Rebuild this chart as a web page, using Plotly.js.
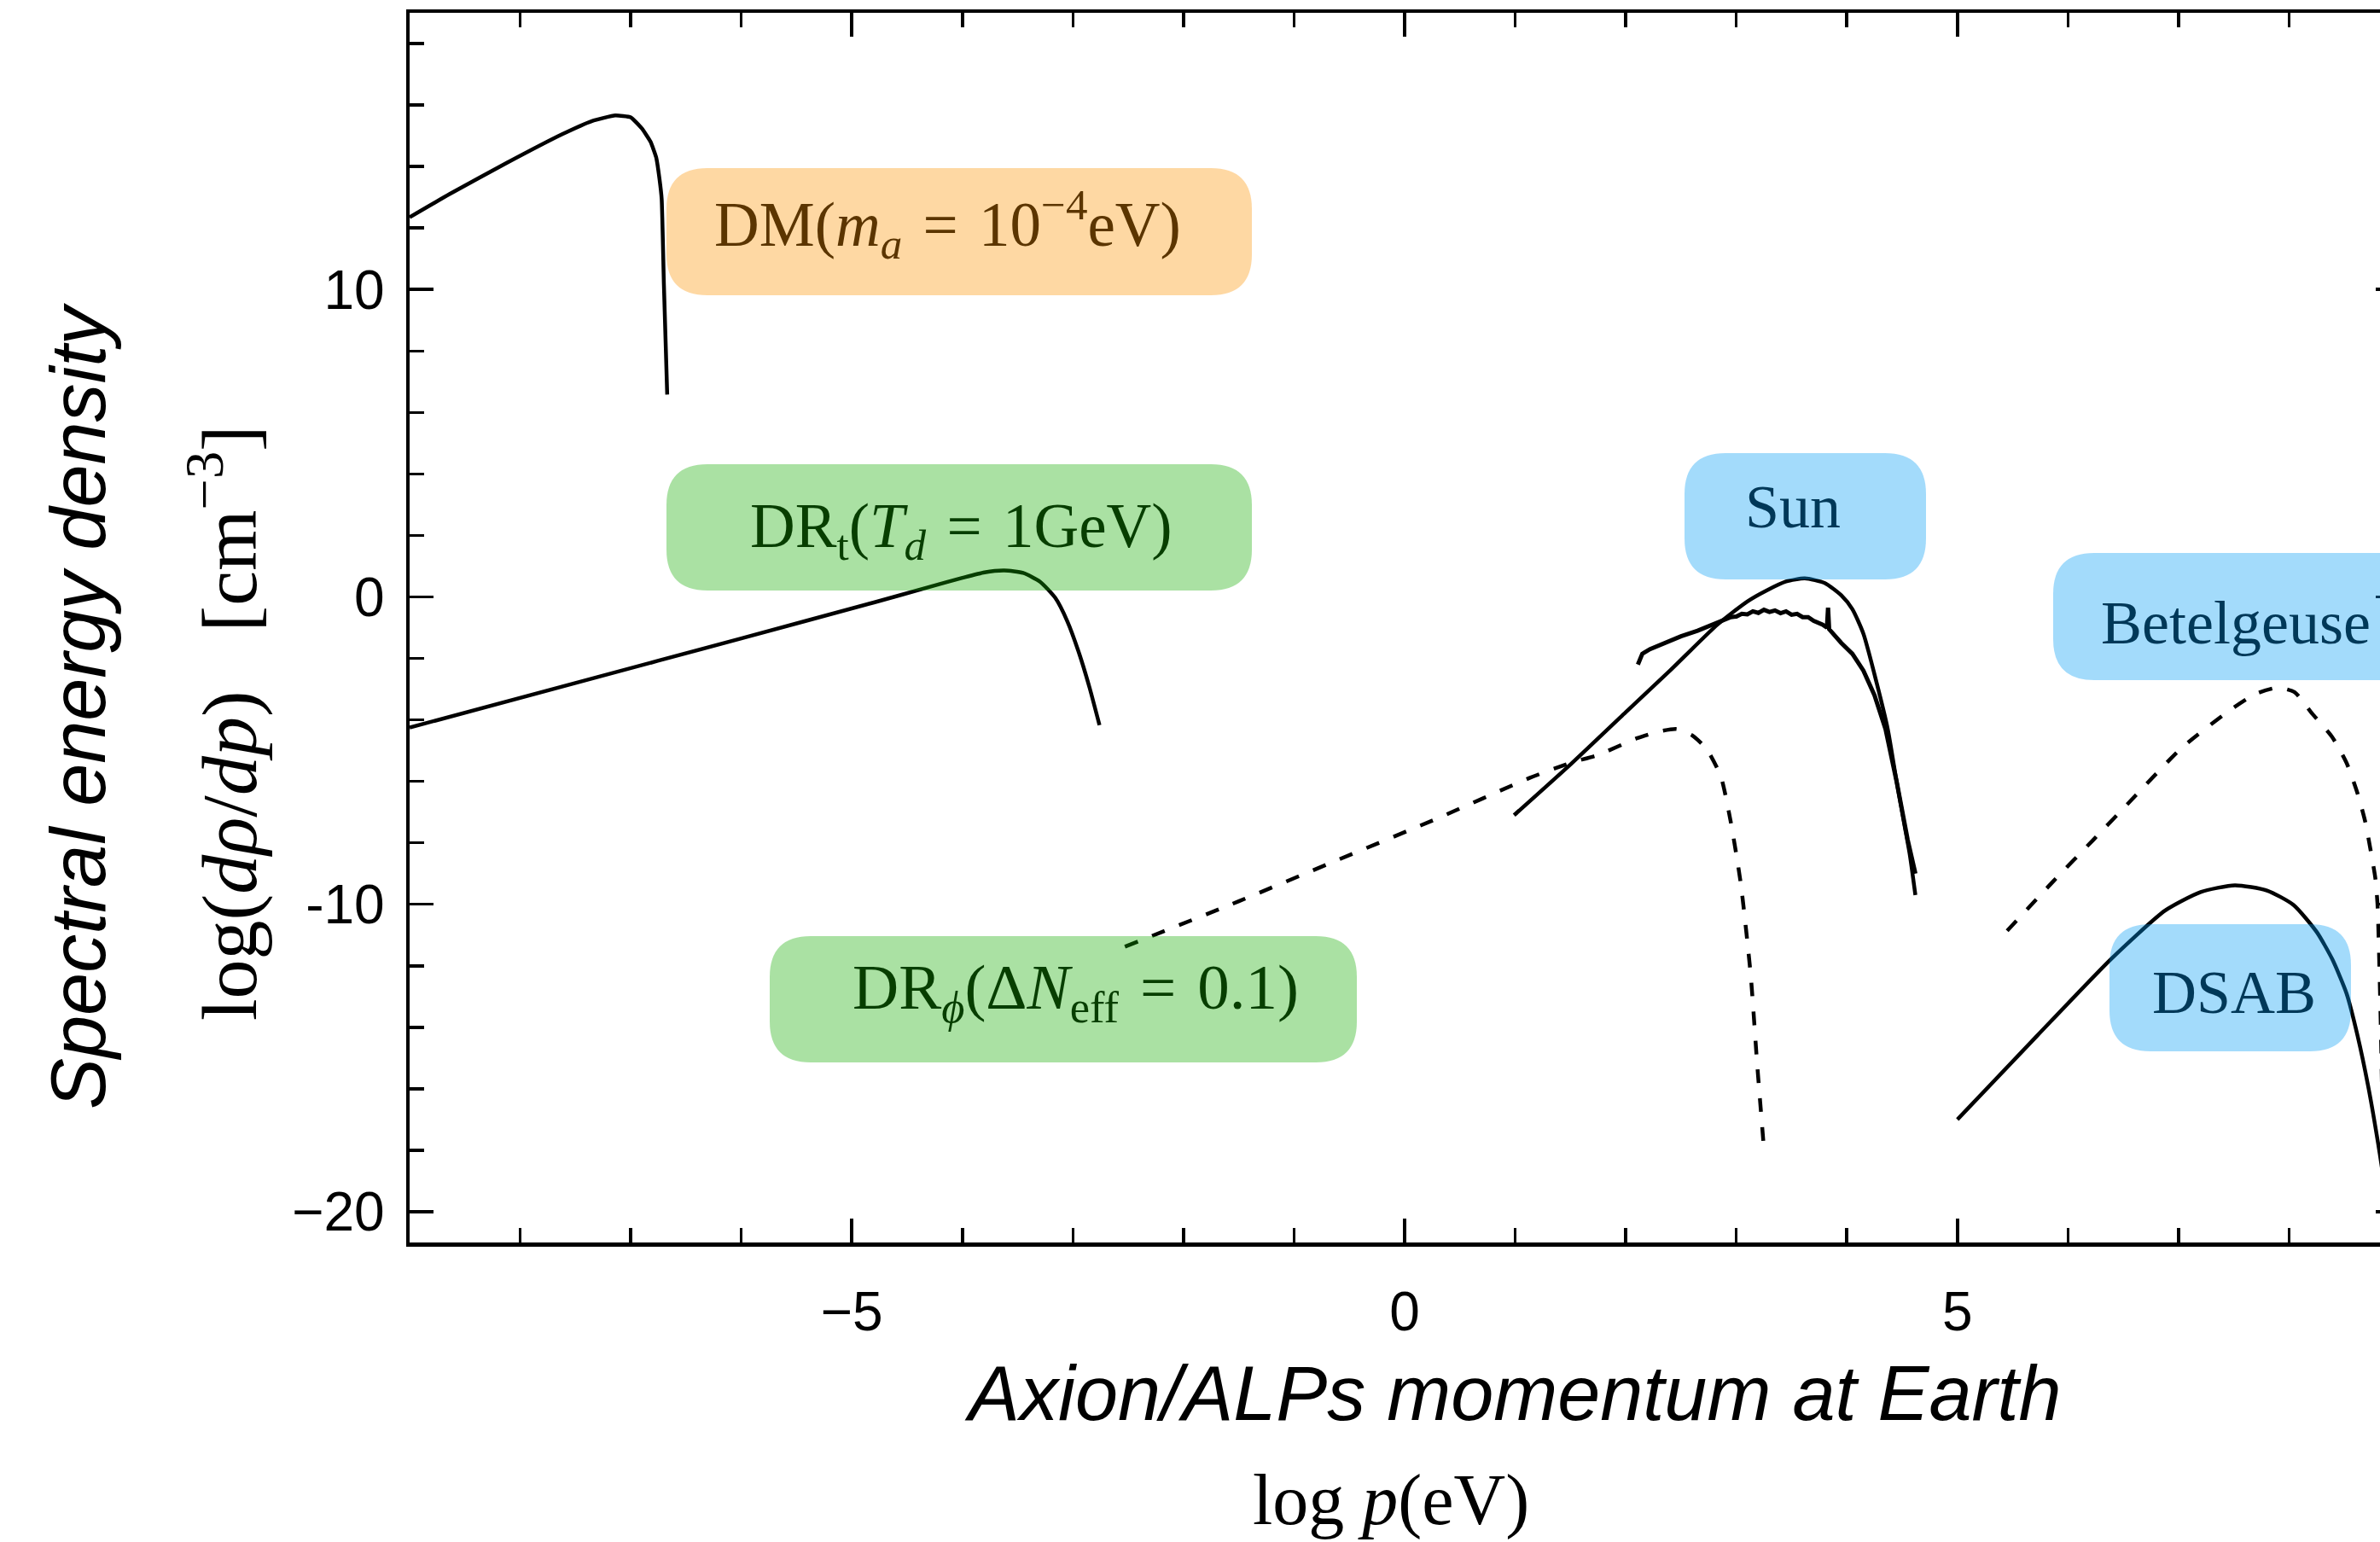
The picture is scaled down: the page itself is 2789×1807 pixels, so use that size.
<!DOCTYPE html>
<html><head><meta charset="utf-8">
<script src="https://cdn.plot.ly/plotly-3.0.1.min.js"></script>
<style>html,body{margin:0;padding:0;overflow:hidden;background:#fff}#chart{width:2830px;height:1807px}</style>
</head><body><div id="chart"></div>
<script>
// ---------- data (log10 p [eV], log10 drho/dp [cm^-3]) ----------
const dmX = [-9.0, -8.64, -8.12, -7.62, -7.35, -7.14, -7.0, -6.9, -6.82, -6.77, -6.74, -6.72, -6.70, -6.67];
const dmY = [12.35, 13.1, 14.12, 15.05, 15.48, 15.66, 15.6, 15.24, 14.8, 14.3, 13.6, 12.94, 10.17, 6.58];

const drtX = [-9.0, -7.5, -6.0, -4.8, -4.3, -4.0, -3.8, -3.62, -3.45, -3.3, -3.16, -3.05, -2.94, -2.85, -2.76];
const drtY = [-4.25, -2.8, -1.35, -0.18, 0.32, 0.62, 0.8, 0.86, 0.78, 0.5, -0.03, -0.8, -1.88, -2.95, -4.17];

const drpX = [-2.53, -1.5, -0.64, 0.3, 1.13, 1.5, 1.75, 2.1, 2.3, 2.46, 2.6, 2.73, 2.86, 2.95, 3.04, 3.13, 3.19, 3.25];
const drpY = [-11.38, -9.9, -8.61, -7.2, -5.89, -5.4, -5.14, -4.6, -4.38, -4.3, -4.5, -4.94, -5.84, -7.32, -9.31, -12.28, -15.25, -17.94];

const sunX = [0.99, 1.5, 2.0, 2.4, 2.83, 3.1, 3.27, 3.45, 3.62, 3.8, 3.95, 4.05, 4.15, 4.27, 4.37, 4.45, 4.52, 4.57, 4.62];
const sunY = [-7.1, -5.45, -3.75, -2.4, -0.9, -0.15, 0.2, 0.5, 0.6, 0.45, 0.05, -0.4, -1.2, -2.8, -4.3, -6.0, -7.4, -8.4, -9.7];

const sunDataX = [2.11, 2.15, 2.22, 2.35, 2.5, 2.65, 2.8, 2.9, 2.95, 3.0, 3.05, 3.1, 3.15, 3.2, 3.25, 3.3, 3.35, 3.4, 3.45, 3.5, 3.55, 3.6, 3.65, 3.7, 3.78, 3.82, 3.83, 3.84, 3.88, 3.95, 4.05, 4.15, 4.25, 4.35, 4.45, 4.55, 4.62];
const sunDataY = [-2.2, -1.85, -1.7, -1.5, -1.28, -1.1, -0.88, -0.75, -0.66, -0.64, -0.55, -0.57, -0.47, -0.52, -0.42, -0.49, -0.44, -0.53, -0.47, -0.58, -0.55, -0.66, -0.66, -0.78, -0.9, -1.0, -0.35, -1.05, -1.23, -1.5, -1.85, -2.4, -3.2, -4.3, -6.0, -7.9, -9.0];

const betX = [5.45, 5.87, 6.23, 6.61, 7.02, 7.44, 7.7, 7.9, 8.05, 8.21, 8.39, 8.52, 8.62, 8.69, 8.74, 8.78, 8.8, 8.83, 8.86];
const betY = [-10.86, -9.24, -7.9, -6.47, -4.94, -3.75, -3.15, -2.95, -3.1, -3.8, -4.56, -5.4, -6.4, -7.33, -8.29, -9.14, -10.0, -14.0, -20.0];

const dsabX = [5.0, 5.72, 6.39, 6.88, 7.2, 7.51, 7.8, 8.04, 8.25, 8.39, 8.52, 8.62, 8.72, 8.82, 8.9];
const dsabY = [-17.0, -14.28, -11.78, -10.2, -9.6, -9.38, -9.55, -10.02, -10.9, -11.78, -12.9, -14.28, -16.0, -18.1, -20.0];

const xTickVals = [-5, 0, 5];
const xTickText = ['\u22125', '0', '5'];
const yTickVals = [-20, -10, 0, 10];
const yTickText = ['\u221220', '-10', '0', '10'];

const SP = '\u2004';
const labels = ['DM(<i>m</i><sub><i>a</i></sub>' + SP + '=' + SP + '10<sup>\u22124</sup>eV)',
                'DR<sub>t</sub>(<i>T</i><sub><i>d</i></sub>' + SP + '=' + SP + '1GeV)',
                'DR<sub><i>\u03d5</i></sub>(\u0394<i>N</i><sub>eff</sub>' + SP + '=' + SP + '0.1)',
                'Sun', 'Betelgeuse', 'DSAB'];

// ---------- geometry helpers (pixel -> axis / paper) ----------
const PL = 480, PR = 2812, PT = 15, PB = 1456;
const XR = [-9, 9], YR = [-21, 19];
const X = p => XR[0] + (p - PL) * (XR[1] - XR[0]) / (PR - PL);
const Y = p => YR[1] - (p - PT) * (YR[1] - YR[0]) / (PB - PT);
const PX = p => (p - PL) / (PR - PL);
const PY = p => (PB - p) / (PB - PT);

function roundBox(x0, y0, x1, y1, r, fill) {
  const f = (a, b) => X(a).toFixed(4) + ',' + Y(b).toFixed(4);
  const path = 'M' + f(x0 + r, y0) + ' L' + f(x1 - r, y0) + ' Q' + f(x1, y0) + ' ' + f(x1, y0 + r) +
    ' L' + f(x1, y1 - r) + ' Q' + f(x1, y1) + ' ' + f(x1 - r, y1) +
    ' L' + f(x0 + r, y1) + ' Q' + f(x0, y1) + ' ' + f(x0, y1 - r) +
    ' L' + f(x0, y0 + r) + ' Q' + f(x0, y0) + ' ' + f(x0 + r, y0) + ' Z';
  return {type: 'path', xref: 'x', yref: 'y', path: path, fillcolor: fill, line: {width: 0}, layer: 'above'};
}

const ORANGE = 'rgba(252,146,0,0.36)', GREEN = 'rgba(19,172,0,0.36)', BLUE = 'rgba(0,155,244,0.36)';
const T_OR = 'rgb(91,53,0)', T_GR = 'rgb(7,62,0)', T_BL = 'rgb(0,56,88)';

const solid = {color: 'black', width: 4.5};
const dashed = {color: 'black', width: 4.5, dash: '16px,18px'};

const traces = [
  {x: dmX, y: dmY, mode: 'lines', line: Object.assign({shape: 'spline', smoothing: 0.4}, solid), name: 'DM'},
  {x: drtX, y: drtY, mode: 'lines', line: Object.assign({shape: 'spline', smoothing: 0.6}, solid), name: 'DRt'},
  {x: drpX, y: drpY, mode: 'lines', line: Object.assign({shape: 'spline', smoothing: 0.6}, dashed), name: 'DRphi'},
  {x: sunX, y: sunY, mode: 'lines', line: Object.assign({shape: 'spline', smoothing: 0.6}, solid), name: 'Sun'},
  {x: sunDataX, y: sunDataY, mode: 'lines', line: {color: 'black', width: 5}, name: 'Sun data'},
  {x: betX, y: betY, mode: 'lines', line: Object.assign({shape: 'spline', smoothing: 0.6}, dashed), name: 'Betelgeuse'},
  {x: dsabX, y: dsabY, mode: 'lines', line: Object.assign({shape: 'spline', smoothing: 0.6}, solid), name: 'DSAB'}
];

const serif = 'Liberation Serif, Times New Roman, serif';
const sans = 'Liberation Sans, Arial, Helvetica, sans-serif';

function lab(txt, cx, cy, color, size) {
  return {xref: 'paper', yref: 'paper', x: PX(cx), y: PY(cy), xanchor: 'center', yanchor: 'middle',
          text: txt, showarrow: false, font: {family: serif, size: size || 72, color: color}};
}

const annotations = [
  lab(labels[0], 1110, 262, T_OR, 73),
  lab(labels[1], 1126, 622, T_GR, 73),
  lab(labels[2], 1260, 1162, T_GR, 75),
  lab(labels[3], 2101, 594, T_BL),
  lab(labels[4], 2620, 730, T_BL),
  lab(labels[5], 2618, 1163, T_BL),
  {xref: 'paper', yref: 'paper', x: PX(1773), y: PY(1633), xanchor: 'center', yanchor: 'middle', showarrow: false,
   text: '<i>Axion/ALPs momentum at Earth</i>', font: {family: sans, size: 90, color: 'black'}},
  {xref: 'paper', yref: 'paper', x: PX(1630), y: PY(1758), xanchor: 'center', yanchor: 'middle', showarrow: false,
   text: 'log <i>p</i>(eV)', font: {family: serif, size: 84, color: 'black'}},
  {xref: 'paper', yref: 'paper', x: PX(92), y: PY(827), xanchor: 'center', yanchor: 'middle', showarrow: false, textangle: -90,
   text: '<i>Spectral energy density</i>', font: {family: sans, size: 90, color: 'black'}},
  {xref: 'paper', yref: 'paper', x: PX(262), y: PY(847), xanchor: 'center', yanchor: 'middle', showarrow: false, textangle: -90,
   text: 'log(<i>d\u03c1</i>/<i>dp</i>)\u00a0\u00a0\u00a0[cm<sup>\u22123</sup>]', font: {family: serif, size: 92, color: 'black'}}
];

const shapes = [
  roundBox(781, 197, 1467, 346, 48, ORANGE),
  roundBox(781, 544, 1467, 692, 48, GREEN),
  roundBox(902, 1097, 1590, 1245, 48, GREEN),
  roundBox(1974, 531, 2257, 679, 48, BLUE),
  roundBox(2406, 648, 2834, 797, 48, BLUE),
  roundBox(2472, 1083, 2755, 1232, 48, BLUE)
];

const axisCommon = {
  showgrid: false, zeroline: false, showline: true, linecolor: 'black', linewidth: 4.5, mirror: 'ticks',
  ticks: 'inside', ticklen: 28, tickwidth: 3.5, tickcolor: 'black', tickmode: 'array',
  tickfont: {family: sans, size: 64, color: 'black'}
};

const layout = {
  width: 2830, height: 1807,
  margin: {l: PL, r: 2830 - PR, t: PT, b: 1807 - PB, pad: 0},
  paper_bgcolor: 'white', plot_bgcolor: 'white', showlegend: false,
  xaxis: Object.assign({}, axisCommon, {range: XR, tickvals: xTickVals, ticktext: xTickText, ticklabelstandoff: 22,
    minor: {tickmode: 'linear', tick0: 0, dtick: 1, ticks: 'inside', ticklen: 17, tickwidth: 3.5, tickcolor: 'black', showgrid: false}}),
  yaxis: Object.assign({}, axisCommon, {range: YR, tickvals: yTickVals, ticktext: yTickText, ticklabelstandoff: 12,
    minor: {tickmode: 'linear', tick0: 0, dtick: 2, ticks: 'inside', ticklen: 17, tickwidth: 3.5, tickcolor: 'black', showgrid: false}}),
  shapes: shapes, annotations: annotations
};

Plotly.newPlot('chart', traces, layout, {staticPlot: true, displayModeBar: false});
</script>
</body></html>
